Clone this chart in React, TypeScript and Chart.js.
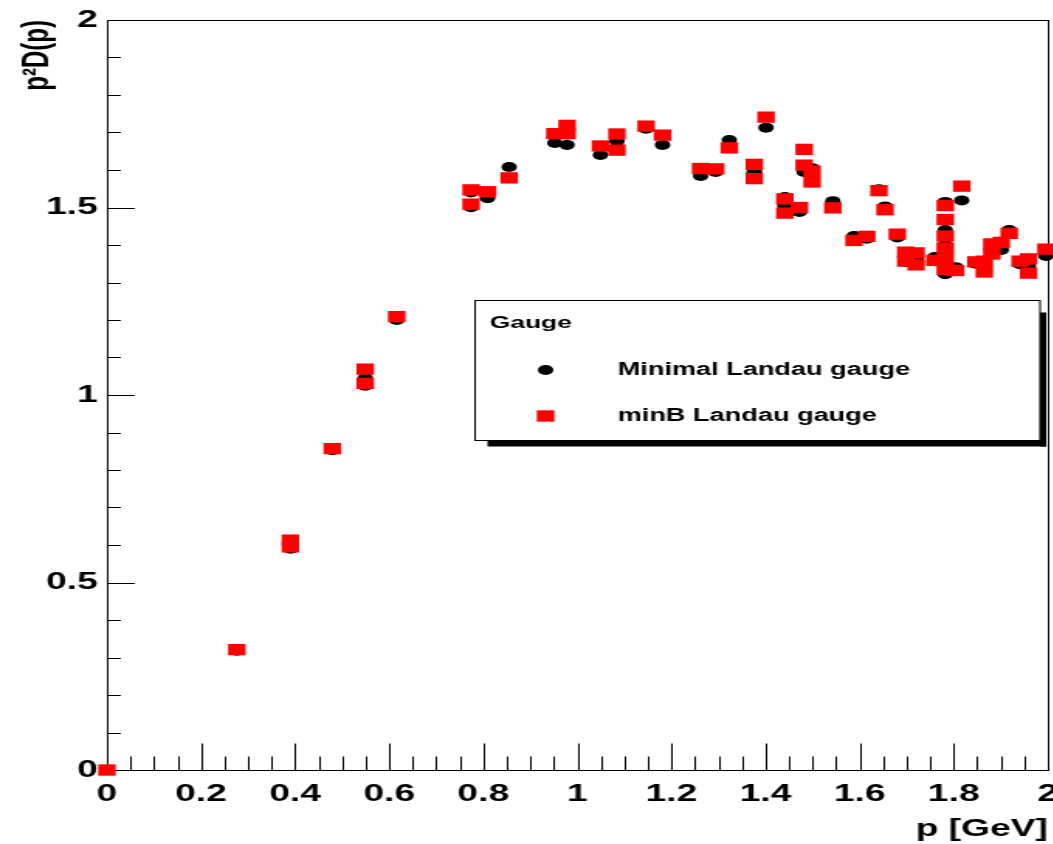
import { useEffect, useRef } from 'react';
import { Chart, registerables } from 'chart.js';

Chart.register(...registerables);

// The whole drawing is rendered on a narrow canvas and widened with scaleX,
// which gives the wide lettering and oval markers of the original figure.
// The canvas is a little wider than the page, so the last x label is cut off.
const SX = 1.55;
const W = 684;
const H = 844;
const FONT = '"Liberation Sans", Arial, Helvetica, sans-serif';

// Lattice momenta p [GeV] (several directions share the same |p|)
const momenta = [
  0, 0.276, 0.39, 0.39, 0.479, 0.549, 0.549, 0.616,
  0.774, 0.774, 0.809, 0.855, 0.952, 0.978, 0.978, 1.049,
  1.084, 1.084, 1.146, 1.181, 1.262, 1.294, 1.323, 1.376,
  1.376, 1.401, 1.441, 1.441, 1.472, 1.482, 1.482, 1.499,
  1.499, 1.543, 1.588, 1.615, 1.641, 1.654, 1.68, 1.698,
  1.698, 1.72, 1.72, 1.76, 1.782, 1.782, 1.782, 1.782,
  1.782, 1.782, 1.804, 1.817, 1.847, 1.865, 1.865, 1.881,
  1.881, 1.901, 1.918, 1.941, 1.959, 1.959, 1.996,
];

// p^2 D(p) in the minimal Landau gauge
const minimalLandau = [
  0, 0.318, 0.605, 0.59, 0.853, 1.045, 1.025, 1.2,
  1.54, 1.501, 1.525, 1.608, 1.672, 1.695, 1.667, 1.64,
  1.677, 1.66, 1.71, 1.667, 1.584, 1.595, 1.68, 1.595,
  1.593, 1.713, 1.528, 1.505, 1.488, 1.598, 1.595, 1.605,
  1.58, 1.517, 1.424, 1.417, 1.549, 1.503, 1.42, 1.37,
  1.355, 1.362, 1.35, 1.368, 1.515, 1.44, 1.4, 1.37,
  1.345, 1.322, 1.341, 1.519, 1.35, 1.34, 1.335, 1.39,
  1.38, 1.387, 1.44, 1.349, 1.35, 1.34, 1.371,
];

// p^2 D(p) in the minB Landau gauge
const minBLandau = [
  0, 0.321, 0.613, 0.595, 0.857, 1.069, 1.031, 1.209,
  1.547, 1.509, 1.542, 1.579, 1.697, 1.719, 1.697, 1.664,
  1.696, 1.653, 1.717, 1.693, 1.604, 1.603, 1.659, 1.615,
  1.577, 1.741, 1.523, 1.485, 1.5, 1.655, 1.613, 1.597,
  1.568, 1.499, 1.412, 1.423, 1.545, 1.494, 1.429, 1.381,
  1.357, 1.379, 1.347, 1.359, 1.505, 1.468, 1.424, 1.392,
  1.363, 1.335, 1.332, 1.557, 1.355, 1.357, 1.328, 1.403,
  1.376, 1.407, 1.431, 1.357, 1.363, 1.325, 1.389,
];

const xTickValues = [0, 0.2, 0.4, 0.6, 0.8, 1, 1.2, 1.4, 1.6, 1.8, 2];
const xTickLabels = ['0', '0.2', '0.4', '0.6', '0.8', '1', '1.2', '1.4', '1.6', '1.8', '2'];
const yTickValues = [0, 0.5, 1, 1.5, 2];
const yTickLabels = ['0', '0.5', '1', '1.5', '2'];

const X_MINOR = 0.05;
const Y_MINOR = 0.1;

const seriesNames = ['Minimal Landau gauge', 'minB Landau gauge'];
const legendTitle = 'Gauge';

// Frame around the plotting area with inward ROOT-style ticks
const frameAndTicks = {
  id: 'frameAndTicks',
  beforeDatasetsDraw(chart: any) {
    const { ctx, chartArea: a, scales } = chart;
    const xs = scales.x;
    const ys = scales.y;
    const l = Math.round(a.left) + 0.5;
    const r = Math.round(a.right) + 0.5;
    const t = Math.round(a.top) + 0.5;
    const b = Math.round(a.bottom) + 0.5;
    ctx.save();
    ctx.strokeStyle = '#000';
    ctx.lineWidth = 1;
    ctx.strokeRect(l, t, r - l, b - t);
    ctx.beginPath();
    const nx = Math.round((xs.max - xs.min) / X_MINOR);
    for (let i = 0; i <= nx; i++) {
      const v = xs.min + i * X_MINOR;
      const px = Math.round(xs.getPixelForValue(v)) + 0.5;
      const major = i % 4 === 0;
      ctx.moveTo(px, b);
      ctx.lineTo(px, b - (major ? 27 : 14));
    }
    const ny = Math.round((ys.max - ys.min) / Y_MINOR);
    for (let i = 0; i <= ny; i++) {
      const v = ys.min + i * Y_MINOR;
      const py = Math.round(ys.getPixelForValue(v)) + 0.5;
      const major = i % 5 === 0;
      ctx.moveTo(l, py);
      ctx.lineTo(l + (major ? 27 : 13) / SX, py);
    }
    ctx.stroke();
    ctx.restore();
  },
};

// Boxed legend with a drop shadow, inside the plotting area
const gaugeLegend = {
  id: 'gaugeLegend',
  afterDraw(chart: any) {
    const { ctx } = chart;
    const box = { left: 306.5, top: 300.5, right: 671, bottom: 440.5 };
    ctx.save();
    ctx.fillStyle = '#000';
    ctx.fillRect(box.right, box.top + 12, 4, box.bottom - box.top - 6);
    ctx.fillRect(box.left + 8, box.bottom, box.right - box.left - 4, 6);
    ctx.fillStyle = '#fff';
    ctx.fillRect(box.left, box.top, box.right - box.left, box.bottom - box.top);
    ctx.strokeStyle = '#000';
    ctx.lineWidth = 1;
    ctx.strokeRect(box.left, box.top, box.right - box.left, box.bottom - box.top);

    ctx.fillStyle = '#000';
    ctx.textBaseline = 'middle';
    ctx.textAlign = 'left';
    ctx.font = `bold 17px ${FONT}`;
    ctx.fillText(legendTitle, 316, 323);

    const rows = [370, 416];
    const markerX = 352;
    ctx.font = `bold 17.5px ${FONT}`;
    chart.data.datasets.forEach((ds: any, i: number) => {
      const y = rows[i];
      ctx.fillStyle = ds.backgroundColor;
      if (ds.pointStyle === 'circle') {
        ctx.beginPath();
        ctx.arc(markerX, y, ds.pointRadius, 0, Math.PI * 2);
        ctx.fill();
      } else {
        const s = ds.pointRadius * Math.SQRT1_2;
        ctx.fillRect(markerX - s, y - s, 2 * s, 2 * s);
      }
      ctx.fillStyle = '#000';
      ctx.fillText(ds.label, 398.5, y);
    });
    ctx.restore();
  },
};

export default function App() {
  const canvasRef = useRef<HTMLCanvasElement | null>(null);

  useEffect(() => {
    const canvas = canvasRef.current;
    if (!canvas) return;
    const tickFont = { family: FONT, size: 24, weight: 'bold' as const };

    const chart = new Chart(canvas, {
      type: 'scatter',
      data: {
        datasets: [
          {
            label: seriesNames[0],
            data: momenta.map((p, i) => ({ x: p, y: minimalLandau[i] })),
            pointStyle: 'circle',
            pointRadius: 5,
            backgroundColor: '#000000',
            borderColor: '#000000',
            borderWidth: 0,
            order: 2,
            clip: false,
          } as any,
          {
            label: seriesNames[1],
            data: momenta.map((p, i) => ({ x: p, y: minBLandau[i] })),
            pointStyle: 'rect',
            pointRadius: 8,
            backgroundColor: '#ff0000',
            borderColor: '#ff0000',
            borderWidth: 0,
            order: 1,
            clip: false,
          } as any,
        ],
      },
      options: {
        responsive: false,
        animation: false,
        events: [],
        layout: { padding: { left: 0, top: 20, right: 0, bottom: 0 } },
        plugins: {
          legend: { display: false },
          tooltip: { enabled: false },
        },
        scales: {
          x: {
            type: 'linear',
            min: 0,
            max: 2,
            afterBuildTicks: (s: any) => {
              s.ticks = xTickValues.map((value) => ({ value }));
            },
            afterFit: (s: any) => {
              s.height = 74;
              s.paddingLeft = 0;
              s.paddingRight = 0;
            },
            grid: { display: false, drawTicks: false },
            border: { display: false },
            ticks: {
              callback: (_v: any, i: number) => xTickLabels[i],
              font: tickFont,
              color: '#000',
              padding: 10,
              maxRotation: 0,
              autoSkip: false,
            },
            title: {
              display: true,
              text: 'p [GeV]',
              align: 'end',
              color: '#000',
              font: { family: FONT, size: 24, weight: 'bold' },
              padding: { top: 0, bottom: 0 },
            },
          },
          y: {
            type: 'linear',
            min: 0,
            max: 2,
            afterBuildTicks: (s: any) => {
              s.ticks = yTickValues.map((value) => ({ value }));
            },
            afterFit: (s: any) => {
              s.width = 69;
              s.paddingTop = 0;
              s.paddingBottom = 0;
            },
            grid: { display: false, drawTicks: false },
            border: { display: false },
            ticks: {
              callback: (_v: any, i: number) => yTickLabels[i],
              font: tickFont,
              color: '#000',
              padding: 6,
              autoSkip: false,
            },
            title: {
              display: true,
              text: 'p\u00B2D(p)',
              align: 'end',
              color: '#000',
              font: { family: FONT, size: 24, weight: 'bold' },
              padding: { top: 10, bottom: 0 },
            },
          },
        },
      },
      plugins: [frameAndTicks, gaugeLegend],
    });

    return () => chart.destroy();
  }, []);

  return (
    <div
      style={{
        position: 'absolute',
        left: 0,
        top: 0,
        width: 1053,
        height: H,
        overflow: 'hidden',
        background: '#fff',
      }}
    >
      <canvas
        ref={canvasRef}
        width={W}
        height={H}
        style={{
          display: 'block',
          width: W,
          height: H,
          transform: `scaleX(${SX})`,
          transformOrigin: '0 0',
        }}
      />
    </div>
  );
}
